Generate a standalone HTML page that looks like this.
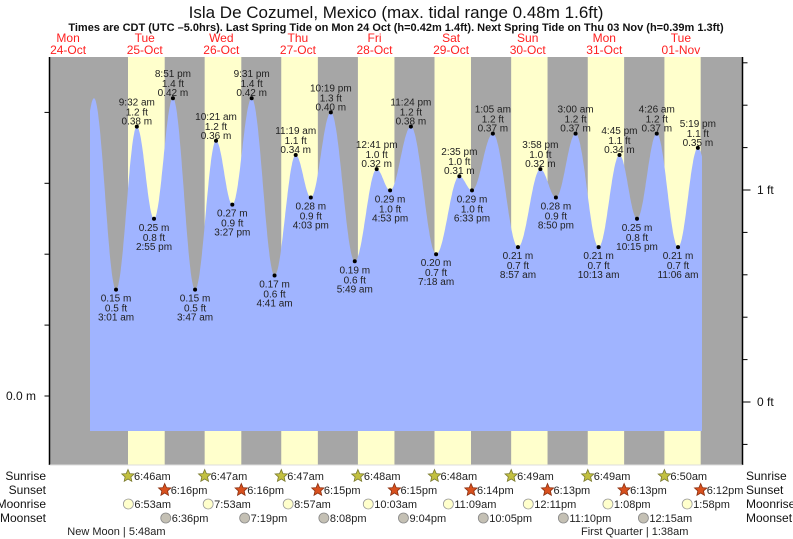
<!DOCTYPE html>
<html><head><meta charset="utf-8"><style>
body{margin:0;background:#fff;}
svg{display:block;font-family:"Liberation Sans",sans-serif;}
</style></head><body>
<svg id="chart" width="793" height="539" viewBox="0 0 793 539" xmlns="http://www.w3.org/2000/svg">
<text x="396" y="18" font-size="17" text-anchor="middle" fill="#111">Isla De Cozumel, Mexico (max. tidal range 0.48m 1.6ft)</text>
<text x="396" y="31" font-size="11" font-weight="bold" text-anchor="middle" fill="#111">Times are CDT (UTC –5.0hrs). Last Spring Tide on Mon 24 Oct (h=0.42m 1.4ft). Next Spring Tide on Thu 03 Nov (h=0.39m 1.3ft)</text>
<g id="bg"></g>
<g id="tide"></g>
<g id="labels"></g>
<g id="axes"></g>
<g id="astro"></g>
</svg>
<script>
// ---- data ----
const dayNames = ["Mon","Tue","Wed","Thu","Fri","Sat","Sun","Mon","Tue"];
const dayDates = ["24-Oct","25-Oct","26-Oct","27-Oct","28-Oct","29-Oct","30-Oct","31-Oct","01-Nov"];
// tide extremes: day offset from Mon 24-Oct 00:00, time, height m
const tideDays = [0,1,1,1,1,2,2,2,2,3,3,3,3,4,4,4,4,5,5,5,6,6,6,6,7,7,7,7,8,8,8,8];
const tideTimes = ["8:07 pm","3:01 am","9:32 am","2:55 pm","8:51 pm","3:47 am","10:21 am","3:27 pm","9:31 pm","4:41 am","11:19 am","4:03 pm","10:19 pm","5:49 am","12:41 pm","4:53 pm","11:24 pm","7:18 am","2:35 pm","6:33 pm","1:05 am","8:57 am","3:58 pm","8:50 pm","3:00 am","10:13 am","4:45 pm","10:15 pm","4:26 am","11:06 am","5:19 pm","10:40 pm"];
const tideHeights = [0.42,0.15,0.38,0.25,0.42,0.15,0.36,0.27,0.42,0.17,0.34,0.28,0.40,0.19,0.32,0.29,0.38,0.20,0.31,0.29,0.37,0.21,0.32,0.28,0.37,0.21,0.34,0.25,0.37,0.21,0.35,0.26];
const tideLabeled = [false,true,true,true,true,true,true,true,true,true,true,true,true,true,true,true,true,true,true,true,true,true,true,true,true,true,true,true,true,true,true,false];
const preLow = {day:0,time:"2:00 pm",h:0.24};
const curveStart = {day:0,time:"6:52 pm"};
const curveEnd = {day:8,time:"6:36 pm"};
const sunriseTimes = ["6:46am","6:47am","6:47am","6:48am","6:48am","6:49am","6:49am","6:50am"];
const sunsetTimes = ["6:16pm","6:16pm","6:15pm","6:15pm","6:14pm","6:13pm","6:13pm","6:12pm"];
const moonriseTimes = ["6:53am","7:53am","8:57am","10:03am","11:09am","12:11pm","1:08pm","1:58pm"];
const moonsetDays = [1,2,3,4,5,6,8];
const moonsetTimes = ["6:36pm","7:19pm","8:08pm","9:04pm","10:05pm","11:10pm","12:15am"];
const phaseNames = ["New Moon","First Quarter"];
const phaseDays = [1,8];
const phaseTimes = ["5:48am","1:38am"];

// ---- scales ----
const X0=29.8, DAYW=76.6, PL=49.5, PR=742.5, PT=57, PB=465, BASE=431;
const xs = t => X0 + DAYW*t;
const ym = m => 396 - 709*m;
const yft = f => 402 - 212*f;
function parseT(s){const m=s.match(/(\d+):(\d+)\s*(am|pm)/);let h=+m[1]%12;if(m[3]==="pm")h+=12;return (h+ +m[2]/60)/24;}
const tOf=(d,s)=>d+parseT(s);
const NS="http://www.w3.org/2000/svg";
function mk(tag,attrs,parent,text){const e=document.createElementNS(NS,tag);for(const k in attrs)e.setAttribute(k,attrs[k]);if(text!==undefined)e.textContent=text;parent.appendChild(e);return e;}

// ---- background ----
const bg=document.getElementById('bg');
const plotBg=mk('rect',{x:PL,y:PT,width:PR-PL,height:PB-PT,fill:'#a6a6a6'},bg);


for(let i=0;i<8;i++){
  const d=i+1, a=xs(tOf(d,sunriseTimes[i])), b=xs(tOf(d,sunsetTimes[i]));
  const r=mk('rect',{x:a,y:PT,width:b-a,height:PB-PT,fill:'#ffffcc'},bg);
  
  
}
for(let i=0;i<dayNames.length;i++){
  const cx=xs(i+0.5);
  const t1=mk('text',{x:cx,y:42,'font-size':12,'text-anchor':'middle',fill:'#ff2020'},bg,dayNames[i]);
  
  
  const t2=mk('text',{x:cx,y:54,'font-size':12,'text-anchor':'middle',fill:'#ff2020'},bg,dayDates[i]);
  
  
}

// ---- tide curve ----
const ext=[{t:tOf(preLow.day,preLow.time),h:preLow.h}];
for(let i=0;i<tideTimes.length;i++)ext.push({t:tOf(tideDays[i],tideTimes[i]),h:tideHeights[i]});
function hAt(t){for(let i=0;i<ext.length-1;i++){const a=ext[i],b=ext[i+1];if(t>=a.t&&t<=b.t){const f=(t-a.t)/(b.t-a.t);return a.h+(b.h-a.h)*(1-Math.cos(Math.PI*f))/2;}}return ext[ext.length-1].h;}
const ts=tOf(curveStart.day,curveStart.time), te=tOf(curveEnd.day,curveEnd.time);
let dstr=`M${xs(ts).toFixed(1)},${BASE}`;
for(let t=ts;t<=te;t+=0.005)dstr+=` L${xs(t).toFixed(1)},${ym(hAt(t)).toFixed(1)}`;
dstr+=` L${xs(te).toFixed(1)},${ym(hAt(te)).toFixed(1)} L${xs(te).toFixed(1)},${BASE} Z`;
const tp=mk('path',{d:dstr,fill:'#a0b4ff'},document.getElementById('tide'));



// ---- extreme labels ----
const lg=document.getElementById('labels');
for(let i=0;i<tideTimes.length;i++){
  if(!tideLabeled[i])continue;
  const x=xs(tOf(tideDays[i],tideTimes[i])), y=ym(tideHeights[i]);
  const prev=i>0?tideHeights[i-1]:preLow.h;
  const high=tideHeights[i]>prev;
  const dot=mk('circle',{cx:x,cy:y,r:2,fill:'#000'},lg);
  
  
  const m=tideHeights[i].toFixed(2)+' m', f=(tideHeights[i]*3.2808).toFixed(1)+' ft';
  const lines=high?[[tideTimes[i],-21],[f,-11],[m,-2]]:[[m,12],[f,22],[tideTimes[i],31]];
  for(const [s,dy] of lines){
    const t=mk('text',{x:x,y:y+dy,'font-size':10,'text-anchor':'middle',fill:'#222'},lg,s);
    
    
  }
}

// ---- axes ----
const ax=document.getElementById('axes');
const la=mk('line',{x1:PL,y1:PT,x2:PL,y2:PB,stroke:'#000','stroke-width':1.5},ax);


const ra=mk('line',{x1:PR,y1:PT,x2:PR,y2:PB,stroke:'#000','stroke-width':1.5},ax);


const bl=mk('line',{x1:PL,y1:PB,x2:PR,y2:PB,stroke:'#ddd','stroke-width':1},ax);


const mTicks=[0,0.1,0.2,0.3,0.4];
for(const v of mTicks){
  const tk=mk('line',{x1:PL-5,y1:ym(v),x2:PL,y2:ym(v),stroke:'#000'},ax);
  
  
}
const ml=mk('text',{x:36,y:ym(0)+4,'font-size':12,'text-anchor':'end',fill:'#111'},ax,'0.0 m');


const ftTicks=[-0.2,0,0.2,0.4,0.6,0.8,1,1.2,1.4,1.6];
for(const v of ftTicks){
  const major=Math.abs(v-Math.round(v))<1e-6;
  const tk=mk('line',{x1:PR,y1:yft(v),x2:PR+(major?8:5),y2:yft(v),stroke:'#000'},ax);
  
  
  if(major){
    const t=mk('text',{x:757,y:yft(v)+4,'font-size':12,fill:'#111'},ax,Math.round(v)+' ft');
    
    
  }
}

// ---- astro rows ----
const as=document.getElementById('astro');
const rows=[["Sunrise",480],["Sunset",494],["Moonrise",508],["Moonset",522]];
for(const [n,y] of rows){
  const a=mk('text',{x:46,y:y,'font-size':12,'text-anchor':'end',fill:'#111'},as,n);
  
  
  const b=mk('text',{x:746,y:y,'font-size':12,fill:'#111'},as,n);
  
  
}
function star(cx,cy,fill,stroke){let p='';for(let k=0;k<10;k++){const r=k%2?3:6.5,a=-Math.PI/2+k*Math.PI/5;p+=(k?'L':'M')+(cx+r*Math.cos(a)).toFixed(1)+','+(cy+r*Math.sin(a)).toFixed(1);}return mk('path',{d:p+'Z',fill:fill,stroke:stroke,'stroke-width':0.8},as);}
function evtText(x,y,s){const t=mk('text',{x:x+6,y:y+4,'font-size':11,fill:'#222'},as,s);return t;}
for(let i=0;i<8;i++){
  const d=i+1;
  let x=xs(tOf(d,sunriseTimes[i]));
  const s1=star(x,476,'#c2c040','#7a7a30');
  
  
  const t1=evtText(x,476,sunriseTimes[i]);
  
  
  x=xs(tOf(d,sunsetTimes[i]));
  const s2=star(x,490,'#d8501e','#8a3010');
  
  
  const t2=evtText(x,490,sunsetTimes[i]);
  
  
  x=xs(tOf(d,moonriseTimes[i]));
  const c=mk('circle',{cx:x,cy:504,r:5,fill:'#ffffcc',stroke:'#999','stroke-width':0.8},as);
  
  
  const t3=evtText(x,504,moonriseTimes[i]);
  
  
}
for(let i=0;i<moonsetTimes.length;i++){
  const x=xs(tOf(moonsetDays[i],moonsetTimes[i]));
  const c=mk('circle',{cx:x,cy:518,r:5,fill:'#c4c0b4',stroke:'#888','stroke-width':0.8},as);
  
  
  const t=evtText(x,518,moonsetTimes[i]);
  
  
}
for(let i=0;i<phaseNames.length;i++){
  const x=xs(tOf(phaseDays[i],phaseTimes[i]));
  const t=mk('text',{x:x,y:535,'font-size':11,fill:'#222'},as,'');
  
  
  const a=mk('tspan',{'text-anchor':'end',x:x-2},t,phaseNames[i]+' ');
  const b=mk('tspan',{x:x-2},t,'| '+phaseTimes[i]);
}
</script>
</body></html>
